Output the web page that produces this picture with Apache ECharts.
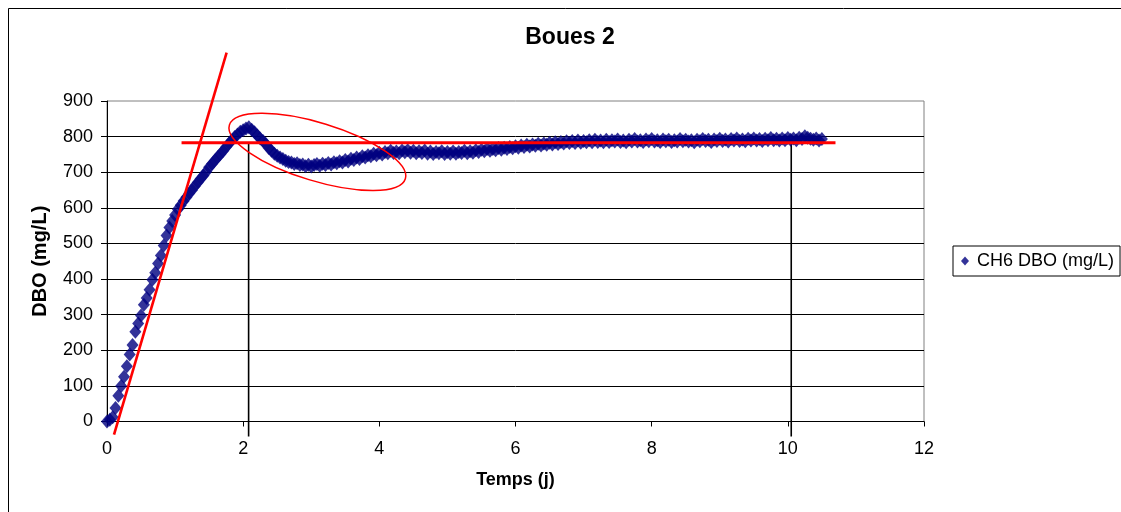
<!DOCTYPE html>
<html>
<head>
<meta charset="utf-8">
<title>Boues 2</title>
<script src="https://cdn.jsdelivr.net/npm/echarts@6/dist/echarts.min.js"></script>
<style>
  html, body { margin: 0; padding: 0; background: #fff; }
  #chart { width: 1121px; height: 512px; }
</style>
</head>
<body>
<div id="chart"></div>
<script>
// hourly readings (1 point per hour, starting at t = 0)
const stepDays = 1 / 24;
const dbo = [
  0, 5, 12, 38, 72, 100, 126, 155, 188, 215, 252, 275, 298, 328, 347, 370, 398, 418, 444, 466,
  494, 522, 545, 563, 580, 596, 607, 619, 630, 641, 650, 661, 671, 682, 691, 701, 714, 723, 733, 742,
  751, 760, 771, 781, 790, 799, 806, 814, 818, 823, 826, 819, 812, 803, 795, 788, 779, 768, 760, 752,
  746, 741, 737, 732, 729, 727, 723, 725, 720, 722, 717, 721, 716, 720, 723, 718, 724, 720, 726, 722,
  728, 725, 731, 727, 734, 730, 738, 734, 741, 737, 745, 741, 748, 745, 752, 748, 755, 750, 757, 753,
  760, 754, 758, 753, 761, 756, 762, 755, 760, 753, 759, 754, 761, 752, 758, 751, 757, 753, 759, 751,
  757, 752, 758, 752, 757, 754, 760, 753, 759, 755, 762, 757, 763, 759, 765, 760, 765, 762, 768, 763,
  769, 765, 771, 767, 773, 769, 775, 771, 777, 772, 778, 774, 780, 775, 781, 777, 783, 778, 784, 779,
  785, 781, 787, 782, 788, 782, 789, 783, 788, 784, 790, 784, 791, 785, 789, 784, 791, 785, 790, 786,
  792, 785, 789, 784, 791, 786, 793, 786, 790, 785, 792, 787, 793, 786, 790, 785, 792, 787, 791, 785,
  790, 786, 793, 787, 791, 786, 790, 784, 791, 787, 793, 788, 791, 785, 792, 788, 794, 788, 792, 786,
  793, 789, 795, 788, 792, 787, 794, 789, 795, 789, 793, 788, 794, 790, 796, 790, 794, 789, 795, 790,
  796, 791, 795, 790, 797, 793, 801, 797, 794, 791, 795, 789, 793
];

// hand-drawn annotations, in data units
const tangentLine = [[0.103, -37], [1.757, 1036]];
const plateauLine = [[1.095, 783], [10.7, 783]];
const markDay2 = [[2.08, 783], [2.08, -42]];
const markDay10 = [[10.05, 783], [10.05, -42]];
const ellipseCenter = [3.09, 757];

const xTicks = { min: 0, max: 12, interval: 2 };
const yTicks = { min: 0, max: 900, interval: 100 };

const FONT = "Liberation Sans, Arial, sans-serif";

const points = dbo.map((v, i) => [i * stepDays, v]);

const chart = echarts.init(document.getElementById("chart"));

const option = {
  animation: false,
  backgroundColor: "#fff",
  title: {
    text: "Boues 2",
    left: 570,
    top: 26,
    padding: 0,
    textAlign: "center",
    textStyle: { fontFamily: FONT, fontSize: 23, fontWeight: "bold", color: "#000" },
  },
  legend: {
    data: ["CH6 DBO (mg/L)"],
    left: 953,
    top: 246,
    orient: "vertical",
    padding: [6, 6, 6, 8],
    borderColor: "#000",
    borderWidth: 1,
    itemWidth: 8,
    itemHeight: 9,
    itemGap: 0,
    icon: "diamond",
    textStyle: { fontFamily: FONT, fontSize: 18, color: "#000", padding: [0, 0, 0, 3] },
  },
  grid: {
    left: 107,
    top: 101,
    width: 817,
    height: 320.5,
    show: true,
    borderColor: "#808080",
    borderWidth: 1,
    containLabel: false,
  },
  xAxis: {
    type: "value",
    ...xTicks,
    name: "Temps (j)",
    nameLocation: "middle",
    nameGap: 50,
    nameTextStyle: { fontFamily: FONT, fontSize: 18, fontWeight: "bold", color: "#000" },
    axisLine: { show: true, onZero: false, lineStyle: { color: "#000", width: 1 } },
    axisTick: { show: true, length: 5, lineStyle: { color: "#000" } },
    axisLabel: { margin: 19, fontFamily: FONT, fontSize: 18, color: "#000" },
    splitLine: { show: false },
  },
  yAxis: {
    type: "value",
    ...yTicks,
    name: "DBO (mg/L)",
    nameLocation: "middle",
    nameRotate: 90,
    nameGap: 57,
    nameTextStyle: { fontFamily: FONT, fontSize: 20, fontWeight: "bold", color: "#000" },
    axisLine: { show: true, lineStyle: { color: "#000", width: 1 } },
    axisTick: { show: true, length: 6, lineStyle: { color: "#000" } },
    axisLabel: { margin: 14, fontFamily: FONT, fontSize: 18, color: "#000" },
    splitLine: { show: true, showMaxLine: false, lineStyle: { color: "#000", width: 1 } },
  },
  series: [
    {
      name: "day2",
      type: "line",
      data: markDay2,
      clip: false,
      symbol: "none",
      silent: true,
      z: 1,
      lineStyle: { color: "#000", width: 1.6 },
    },
    {
      name: "day10",
      type: "line",
      data: markDay10,
      clip: false,
      symbol: "none",
      silent: true,
      z: 1,
      lineStyle: { color: "#000", width: 1.6 },
    },
    {
      name: "CH6 DBO (mg/L)",
      type: "scatter",
      data: points,
      symbol: "diamond",
      symbolSize: [12, 14],
      z: 2,
      itemStyle: { color: "#000080" },
    },
    {
      name: "plateau",
      type: "line",
      data: plateauLine,
      clip: false,
      symbol: "none",
      silent: true,
      z: 3,
      lineStyle: { color: "#ff0000", width: 3 },
    },
    {
      name: "tangent",
      type: "line",
      data: tangentLine,
      clip: false,
      symbol: "none",
      silent: true,
      z: 3,
      lineStyle: { color: "#ff0000", width: 2.6 },
    },
  ],
};

chart.setOption(option);

// outer chart frame and the red ellipse around the overshoot
const c = chart.convertToPixel({ gridIndex: 0 }, ellipseCenter);
chart.setOption({
  graphic: [
    {
      type: "rect",
      x: 0,
      y: 0,
      shape: { x: 8.5, y: 8.5, width: 1200, height: 600 },
      style: { fill: null, stroke: "#000", lineWidth: 1 },
      silent: true,
      z: 0,
    },
    {
      type: "ellipse",
      x: c[0],
      y: c[1],
      rotation: -17 * Math.PI / 180,
      shape: { cx: 0, cy: 0, rx: 92, ry: 29 },
      style: { fill: null, stroke: "#ff0000", lineWidth: 1.5 },
      silent: true,
      z: 10,
    },
  ],
});
</script>
</body>
</html>
